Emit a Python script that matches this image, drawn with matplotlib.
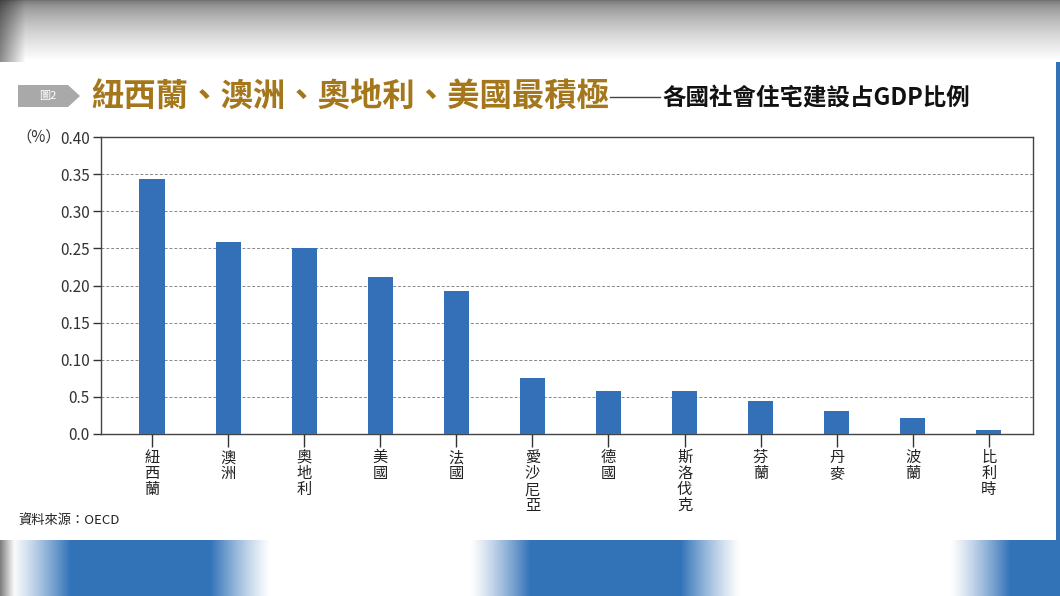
import numpy as np
import matplotlib
matplotlib.use("Agg")
import matplotlib.pyplot as plt
from matplotlib.patches import Polygon

plt.rcParams['font.family'] = ['Noto Sans CJK TC', 'DejaVu Sans']

countries = ["紐西蘭", "澳洲", "奧地利", "美國", "法國", "愛沙尼亞", "德國",
             "斯洛伐克", "芬蘭", "丹麥", "波蘭", "比利時"]
values = [0.344, 0.259, 0.250, 0.211, 0.193, 0.076, 0.058, 0.058, 0.044, 0.031, 0.021, 0.005]
yticks = [0.0, 0.05, 0.10, 0.15, 0.20, 0.25, 0.30, 0.35, 0.40]
ytick_labels = ["0.0", "0.5", "0.10", "0.15", "0.20", "0.25", "0.30", "0.35", "0.40"]

W, H = 1060, 596
fig = plt.figure(figsize=(W / 100, H / 100), dpi=100)

# background (screen capture frame: grey gradient top, blurred blue band bottom)
bg = fig.add_axes([0, 0, 1, 1])
img = np.ones((H, W, 3))
ys = np.arange(H)
top = np.clip(ys / 60.0, 0, 1)
g_top = 0.45 + 0.55 * top ** 0.6
for c in range(3):
    img[:62, :, c] = g_top[:62, None]
xs = np.arange(W)
edge = np.clip(xs / 25.0, 0, 1)
img[:62, :, :] *= (0.55 + 0.45 * edge)[None, :, None]
blue = np.array([0.20, 0.45, 0.72])
prof = np.zeros(W)
for c0, c1 in [(70, 210), (530, 680), (1010, 1100)]:
    d = np.minimum(xs - c0 + 60, c1 + 60 - xs) / 60.0
    prof = np.maximum(prof, np.clip(d, 0, 1) ** 1.2)
band = 1 - prof[:, None] * (1 - blue[None, :])
img[540:, :, :] = band[None, :, :]
img[540:, :15, :] *= np.linspace(0.5, 1, 15)[None, :, None]
img[62:540, 1056:, :] = blue
bg.imshow(img, aspect='auto', extent=[0, W, H, 0])
bg.set_xlim(0, W)
bg.set_ylim(H, 0)
bg.axis('off')

# title box
bg.add_patch(Polygon([[18, 85], [68, 85], [80, 96], [68, 107], [18, 107]],
                     closed=True, facecolor='#a9a9a9', edgecolor='none'))
bg.text(48, 96.5, "圖2", color='white', fontsize=8, ha='center', va='center')
bg.text(91, 97, "紐西蘭、澳洲、奧地利、美國最積極", color='#a5771c', fontsize=23.3,
        fontweight='bold', ha='left', va='center')
bg.plot([610, 660], [97, 97], color='#444444', lw=1)
bg.text(662, 98, "各國社會住宅建設占GDP比例", color='#111111', fontsize=16.9,
        fontweight='bold', ha='left', va='center')
bg.text(18, 520, "資料來源：OECD", color='#222222', fontsize=9.5, ha='left', va='center')
bg.text(16, 137, "（%）", color='#333333', fontsize=11, ha='left', va='center')

# chart axes
ax = fig.add_axes([101 / W, 1 - 434 / H, (1033 - 101) / W, (434 - 137) / H])
x = np.arange(len(countries))
ax.bar(x, values, width=0.33, color='#3370b8', zorder=3)
ax.set_xlim(-0.67, len(countries) - 1 + 0.58)
ax.set_ylim(0, 0.40)
ax.set_yticks(yticks)
ax.set_yticklabels(ytick_labels, fontsize=11, color='#333333')
ax.set_xticks(x)
ax.set_xticklabels(["\n".join(c) for c in countries], fontsize=11,
                   linespacing=0.92, va='top', color='#222222')
ax.tick_params(axis='x', length=9, width=1, color='#333333', pad=2)
ax.tick_params(axis='y', length=6, width=1, color='#333333', pad=2)
ax.yaxis.grid(True, linestyle=(0, (3, 2)), color='#888888', lw=0.7, zorder=0)
for s in ax.spines.values():
    s.set_color('#444444')
    s.set_linewidth(1)

fig.savefig("out.png", dpi=100)
